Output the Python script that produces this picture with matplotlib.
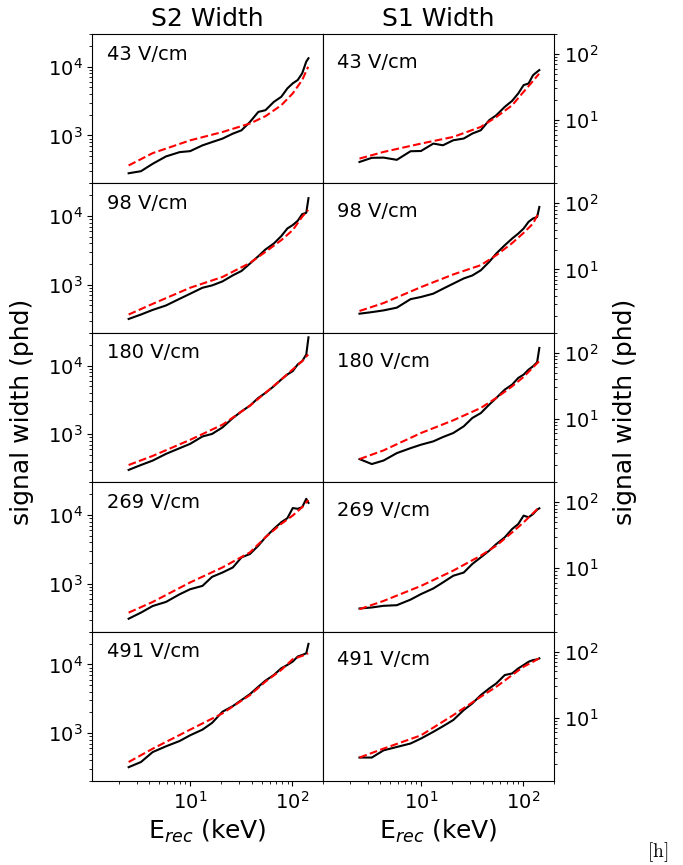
import matplotlib
matplotlib.use("Agg")
import matplotlib.pyplot as plt

# ---------------- data ----------------
fields = ["43 V/cm", "98 V/cm", "180 V/cm", "269 V/cm", "491 V/cm"]
col_titles = ["S2 Width", "S1 Width"]

# energy grid for the measured (black) curves, keV
E_data = [2.5, 3.3, 4.3, 5.8, 7.9, 10, 13.2, 16.4, 20.7, 26.2, 31.8, 38.5,
          46.5, 54.6, 66, 78, 89.5, 101, 113, 125, 137, 144]
# energy grid for the model (red dashed) curves, keV
E_model = [2.5, 4.3, 10, 20.7, 38.5, 54.6, 78, 101, 125, 143]

# S2 width, data (phd)
s2_43 = [281, 301, 386, 494, 571, 590, 716, 800, 897, 1062, 1186, 1570,
         2200, 2330, 3080, 3650, 4840, 5730, 6410, 8030, 11900, 13300]
s2_98 = [318, 369, 431, 500, 626, 741, 906, 980, 1120, 1375, 1590, 2040,
         2610, 3270, 4000, 5120, 6620, 7420, 8570, 10700, 11200, 18300]
s2_180 = [302, 356, 413, 517, 626, 724, 927, 1010, 1255, 1720, 2150, 2610,
          3380, 4000, 5000, 6270, 7420, 8300, 10400, 11600, 14500, 25800]
s2_269 = [308, 378, 472, 541, 700, 828, 927, 1255, 1450, 1720, 2410, 2700,
          3570, 4730, 6270, 7840, 8980, 12600, 12300, 13000, 17200, 15000]
s2_491 = [318, 378, 528, 640, 766, 927, 1120, 1405, 2040, 2470, 3020, 3690,
          4730, 5800, 7010, 8780, 9810, 11000, 13000, 13700, 14500, 19900]

# S1 width, data (phd)
s1_43 = [2.32, 2.68, 2.70, 2.50, 3.37, 3.40, 4.40, 4.15, 4.94, 5.25, 6.24, 7.0,
         9.93, 11.8, 15.8, 19.5, 25.2, 33.7, 35.7, 47.7, 53.6, 56.9]
s1_98 = [2.14, 2.26, 2.40, 2.64, 3.55, 3.83, 4.3, 5.1, 6.1, 7.3, 8.1, 9.7,
         13.0, 17.4, 23.2, 29.3, 34.8, 41.5, 52.5, 59, 62, 88]
s1_180 = [2.46, 2.07, 2.34, 3.03, 3.6, 4.06, 4.56, 5.3, 6.1, 7.7, 10.3, 12.2,
          16.4, 20.7, 27.6, 32.9, 41.5, 46.6, 55.5, 62.4, 71.8, 118]
s1_269 = [2.46, 2.55, 2.70, 2.76, 3.35, 4.06, 4.94, 6.1, 7.7, 8.6, 11.6, 14.6,
          18.4, 23.2, 29.3, 39.2, 46.6, 62.4, 59, 66, 76.9, 80.5]
s1_491 = [2.49, 2.49, 3.2, 3.6, 4.06, 4.83, 6.1, 7.4, 9.2, 13.0, 16.4, 21.9,
          27.6, 32.9, 44, 46.6, 55.5, 62.4, 70, 74.3, 76, 78.7]

# S2 width, model (phd)
s2m_43 = [365, 552, 847, 1120, 1490, 1905, 2750, 4090, 6410, 10000]
s2m_98 = [369, 528, 906, 1300, 2080, 3020, 4470, 6270, 9800, 12300]
s2m_180 = [356, 483, 828, 1375, 2600, 4000, 6270, 8800, 11600, 14500]
s2m_269 = [378, 541, 1040, 1720, 2850, 4730, 7420, 9810, 13000, 16500]
s2m_491 = [378, 591, 1120, 1930, 3570, 5600, 8300, 11900, 13300, 14500]

# S1 width, model (phd)
s1m_43 = [2.61, 3.29, 4.4, 5.55, 7.87, 11.1, 16.7, 26.7, 39, 50]
s1m_98 = [2.35, 3.1, 5.4, 8.4, 11.6, 16.4, 25, 35.7, 49.4, 74]
s1m_180 = [2.46, 3.33, 6.1, 9.5, 14.6, 20.7, 31, 43, 60, 74]
s1m_269 = [2.40, 3.2, 5.4, 9.2, 15.5, 21.9, 34.8, 49.4, 68, 83]
s1m_491 = [2.49, 3.4, 5.4, 10.9, 20.7, 29.3, 44, 58.9, 70, 78.7]

s2_data = [s2_43, s2_98, s2_180, s2_269, s2_491]
s1_data = [s1_43, s1_98, s1_180, s1_269, s1_491]
s2_model = [s2m_43, s2m_98, s2m_180, s2m_269, s2m_491]
s1_model = [s1m_43, s1m_98, s1m_180, s1m_269, s1m_491]

xlim = (1.1, 200)
ylim_s2 = (200, 30000)
ylim_s1 = (1.1, 200)

# ---------------- figure ----------------
fig = plt.figure(figsize=(6.83, 8.65), dpi=100)
gs = fig.add_gridspec(5, 2, left=0.135, right=0.811, top=0.9607, bottom=0.0971,
                      hspace=0, wspace=0)

axes = [[None, None] for _ in range(5)]
for r in range(5):
    for c in range(2):
        kw = {}
        if r > 0:
            kw["sharex"] = axes[0][0]
            kw["sharey"] = axes[0][c]
        elif c > 0:
            kw["sharex"] = axes[0][0]
        axes[r][c] = fig.add_subplot(gs[r, c], **kw)

for r in range(5):
    axL, axR = axes[r]
    axL.plot(E_data, s2_data[r], color="k", lw=1.5)
    axL.plot(E_model, s2_model[r], color="r", ls="--", lw=1.5)
    axR.plot(E_data, s1_data[r], color="k", lw=1.5)
    axR.plot(E_model, s1_model[r], color="r", ls="--", lw=1.5)
    for ax in (axL, axR):
        ax.set_xscale("log")
        ax.set_yscale("log")
        ax.tick_params(axis="both", which="major", labelsize=14)
    axL.set_ylim(*ylim_s2)
    axR.set_ylim(*ylim_s1)
    axR.yaxis.tick_right()
    axR.tick_params(axis="y", which="both", left=False, right=True)
    axL.tick_params(axis="y", which="both", right=False)
    if r < 4:
        for ax in (axL, axR):
            ax.tick_params(axis="x", which="both", bottom=False, labelbottom=False)
    axL.text(0.062, 0.866, fields[r], transform=axL.transAxes, fontsize=14,
             ha="left", va="center")
    axR.text(0.061, 0.81, fields[r], transform=axR.transAxes, fontsize=14,
             ha="left", va="center")

axes[0][0].set_xlim(*xlim)
axes[0][0].set_title(col_titles[0], fontsize=18)
axes[0][1].set_title(col_titles[1], fontsize=18)
axes[4][0].set_xlabel(r"E$_{rec}$ (keV)", fontsize=18)
axes[4][1].set_xlabel(r"E$_{rec}$ (keV)", fontsize=18)

fig.text(0.032, 0.524, "signal width (phd)", rotation=90, fontsize=18,
         ha="center", va="center")
fig.text(0.915, 0.524, "signal width (phd)", rotation=90, fontsize=18,
         ha="center", va="center")
fig.text(0.963, 0.015, r"$[\mathrm{h}]$", fontsize=14, ha="center", va="center",
         math_fontfamily="cm")

fig.savefig("out.png", dpi=100)
